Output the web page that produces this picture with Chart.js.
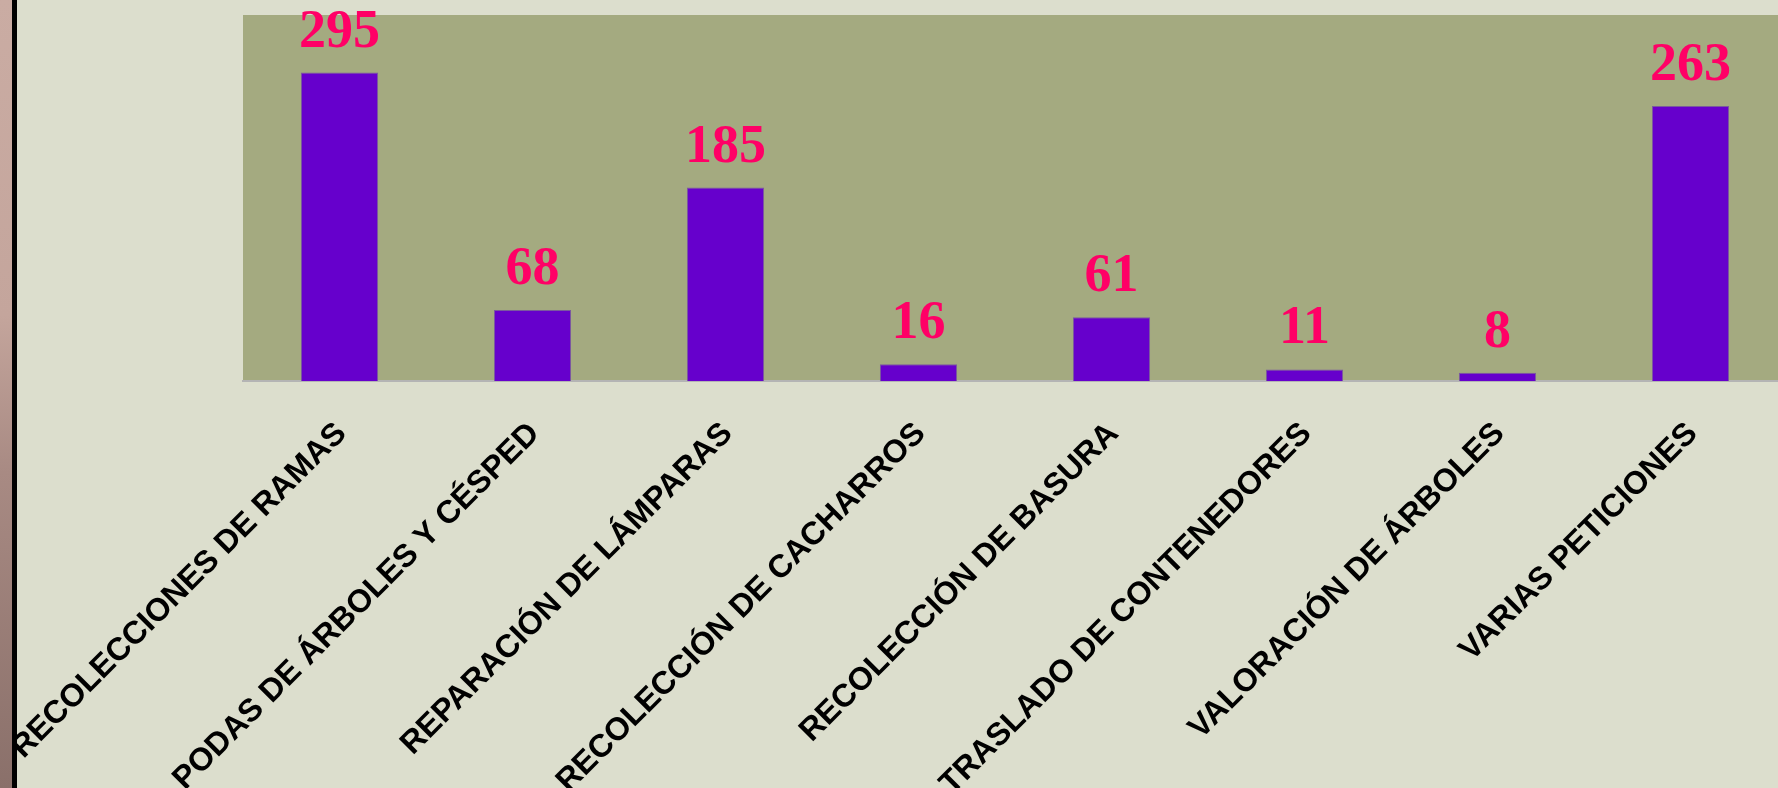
<!DOCTYPE html>
<html>
<head>
<meta charset="utf-8">
<script src="https://cdn.jsdelivr.net/npm/chart.js@4.4.1/dist/chart.umd.min.js"></script>
<style>
  html, body { margin: 0; padding: 0; background: #dcdecd; overflow: hidden; width: 1778px; height: 788px; }
  #wrap { position: absolute; left: 0; top: 0; width: 1800px; height: 788px; }
  #strip { position: absolute; left: 0; top: 0; width: 12px; height: 788px; z-index: 2;
           background: linear-gradient(to bottom, #caaca3 0%, #c4a59c 40%, #a88a83 60%, #8a706a 100%); }
  #line { position: absolute; left: 12px; top: 0; width: 5px; height: 788px; background: #000; z-index: 2; }
</style>
</head>
<body>
<div id="wrap"><canvas id="c" width="1800" height="788"></canvas></div>
<div id="strip"></div>
<div id="line"></div>
<script>
const categories = [
  "RECOLECCIONES DE RAMAS",
  "PODAS DE ÁRBOLES Y CÉSPED",
  "REPARACIÓN DE LÁMPARAS",
  "RECOLECCIÓN DE CACHARROS",
  "RECOLECCIÓN DE BASURA",
  "TRASLADO DE CONTENEDORES",
  "VALORACIÓN DE ÁRBOLES",
  "VARIAS PETICIONES"
];
const values = [295, 68, 185, 16, 61, 11, 8, 263];
const yMin = 0;
const yMax = 350;

const plotBg = {
  id: 'plotBg',
  beforeDraw(chart) {
    const {ctx, chartArea: a} = chart;
    ctx.save();
    ctx.fillStyle = '#a4aa80';
    ctx.fillRect(a.left, a.top, a.right - a.left, a.bottom - a.top);
    ctx.restore();
  }
};

const valueLabels = {
  id: 'valueLabels',
  afterDatasetsDraw(chart) {
    const ctx = chart.ctx;
    const meta = chart.getDatasetMeta(0);
    ctx.save();
    ctx.font = 'bold 54px "Liberation Serif", "DejaVu Serif", serif';
    ctx.fillStyle = '#ff0066';
    ctx.textAlign = 'center';
    ctx.textBaseline = 'alphabetic';
    meta.data.forEach((bar, i) => {
      ctx.fillText(String(values[i]), bar.x, bar.y - 26);
    });
    ctx.restore();
  }
};

new Chart(document.getElementById('c'), {
  type: 'bar',
  data: {
    labels: categories,
    datasets: [{
      data: values,
      backgroundColor: '#6600cc',
      borderColor: '#7a5a9e',
      borderWidth: 1,
      barPercentage: 1.0,
      categoryPercentage: 0.4
    }]
  },
  options: {
    responsive: false,
    animation: false,
    layout: { padding: { left: 243, right: 13, top: 15, bottom: 0 } },
    plugins: { legend: { display: false }, tooltip: { enabled: false } },
    scales: {
      x: {
        grid: { display: false, drawTicks: false },
        border: { display: true, color: '#b4b4b4', width: 2 },
        ticks: {
          autoSkip: false,
          minRotation: 45,
          maxRotation: 45,
          padding: 34,
          labelOffset: 2,
          color: '#000000',
          font: { family: '"Liberation Sans", Arial, sans-serif', size: 32, weight: 'bold' }
        },
        afterFit(s) {
          s.height = 407;
          s.paddingLeft = 0;
          s.paddingRight = 0;
        }
      },
      y: {
        display: false,
        min: yMin,
        max: yMax
      }
    }
  },
  plugins: [plotBg, valueLabels]
});
</script>
</body>
</html>
